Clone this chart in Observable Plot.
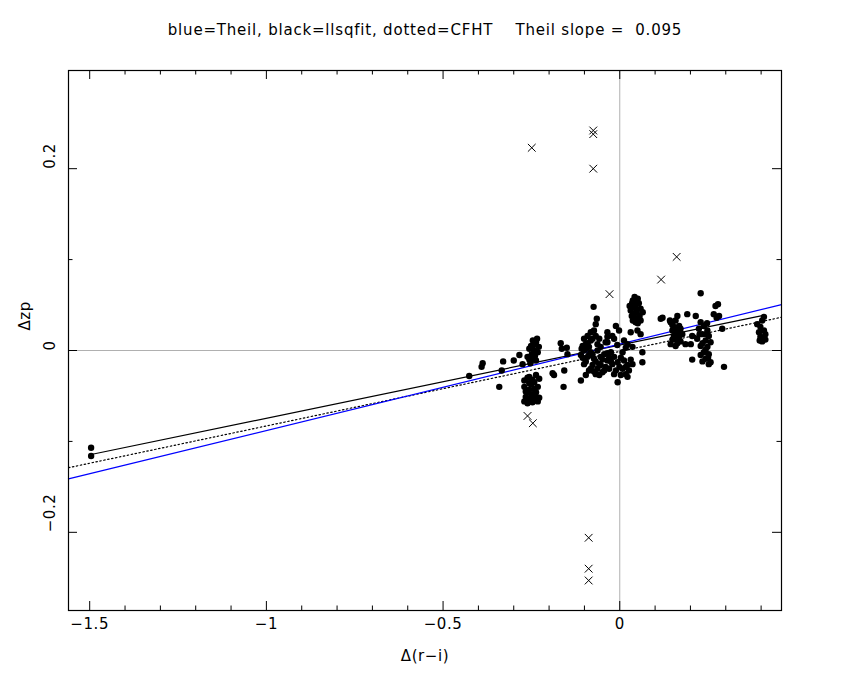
<!DOCTYPE html>
<html><head><meta charset="utf-8">
<script src="https://cdn.jsdelivr.net/npm/d3@7"></script>
<script src="https://cdn.jsdelivr.net/npm/@observablehq/plot@0.6"></script>
<style>
body{margin:0;background:#fff;}
#wrap{position:relative;width:850px;height:680px;}
#title{position:absolute;top:21px;left:0;width:850px;text-align:center;font:15px "DejaVu Sans",sans-serif;letter-spacing:0.8px;white-space:pre;color:#000;z-index:2;}
#wrap svg{position:absolute;top:0;left:0;z-index:1;}
</style></head><body><div id="wrap"><div id="title"></div></div>
<script>
// ---- data ----
const titleText = "blue=Theil, black=llsqfit, dotted=CFHT    Theil slope =  0.095";
const xLabel = "Δ(r−i)";
const yLabel = "Δzp";
const xDomain = [-1.560, 0.4577];
const yDomain = [-0.286, 0.308];
const xMajor = [-1.5, -1, -0.5, 0];
const xMinor = [-1.4,-1.3,-1.2,-1.1,-0.9,-0.8,-0.7,-0.6,-0.4,-0.3,-0.2,-0.1,0.1,0.2,0.3,0.4];
const yMajor = [-0.2, 0, 0.2];
const yMinor = [-0.1, 0.1];

const dotX = [-1.496,-1.496,-0.426,-0.388,-0.391,-0.341,-0.330,-0.334,-0.300,-0.284,-0.275,
 -0.234,-0.237,-0.251,-0.256,-0.242,-0.232,-0.249,-0.261,-0.247,-0.237,-0.253,
 -0.270,-0.256,-0.237,-0.228,-0.251,-0.270,-0.242,-0.261,-0.247,-0.266,-0.237,-0.256,-0.270,-0.228,-0.247,
 -0.167,-0.164,-0.150,-0.190,-0.186,-0.157,-0.159,-0.148,-0.074,
 0.042,0.051,0.037,0.054,0.040,0.059,0.031,0.048,0.034,0.056,0.042,0.059,0.037,0.051,0.028,0.065,
 0.116,0.142,-0.065,-0.068,-0.011,-0.002,
 -0.073,-0.082,-0.091,-0.101,-0.096,-0.082,-0.068,-0.058,-0.035,-0.021,-0.016,
 0.031,0.050,0.059,0.012,0.022,0.036,0.064,
 -0.101,-0.082,-0.063,-0.044,-0.025,-0.091,-0.073,-0.054,-0.035,-0.016,
 -0.101,-0.077,-0.058,-0.040,-0.021,-0.087,-0.068,-0.049,-0.030,-0.011,-0.110,-0.108,
 -0.006,0.012,0.022,0.036,0.008,0.026,0.003,0.017,0.064,-0.110,-0.096,-0.006,0.022,
 0.229,0.271,0.278,0.121,0.163,0.191,0.215,0.266,0.281,0.274,
 0.144,0.158,0.168,0.153,0.172,0.149,0.163,0.177,0.153,0.168,0.144,0.158,0.186,0.201,0.205,
 0.229,0.238,0.224,0.248,0.234,0.252,0.219,0.243,0.257,0.229,0.248,0.238,0.252,0.229,0.243,0.257,0.252,
 0.290,0.205,0.295,0.408,0.389,0.398,0.408,0.394,0.412,0.398,0.408,0.403,-0.035,-0.035,
 -0.261,-0.242,-0.232,-0.256,-0.237,-0.266,-0.251,-0.242,-0.261,-0.232,-0.256,-0.247,
 -0.244,-0.240,-0.256,-0.229,-0.246,
 -0.105,-0.096,-0.087,-0.077,-0.068,-0.063,-0.054,-0.049,-0.044,-0.035,-0.030,-0.025,
 -0.087,-0.091,-0.077,-0.063,-0.054,-0.040,-0.082,-0.073,-0.058,-0.096,-0.105,-0.016,
 -0.001,0.003,0.017,0.031,0.008,0.017,-0.007,
 0.045,0.046,0.039,0.053,0.045,0.035,
 0.149,0.160,0.158,0.172,0.163,0.149,0.234,0.243,0.234,0.247,0.226,0.245,0.250,
 0.403,0.396,0.412];
const dotY = [-0.107,-0.116,-0.028,-0.014,-0.018,-0.040,-0.012,-0.022,-0.011,-0.005,-0.015,
 0.013,0.009,0.005,0.002,0.000,-0.002,-0.004,-0.007,-0.009,-0.011,-0.014,
 -0.033,-0.029,-0.027,-0.031,-0.037,-0.040,-0.042,-0.046,-0.048,-0.051,-0.051,-0.055,-0.056,-0.052,-0.057,
 0.008,0.002,0.003,-0.025,-0.027,-0.022,-0.040,-0.004,0.048,
 0.059,0.057,0.055,0.052,0.049,0.046,0.044,0.042,0.038,0.038,0.035,0.033,0.033,0.030,0.049,0.042,
 0.035,0.033,0.035,0.029,0.027,0.022,
 0.022,0.020,0.016,0.013,0.007,0.011,0.016,0.013,0.020,0.016,0.013,
 0.020,0.022,0.018,0.011,0.007,0.004,-0.002,
 0.000,-0.002,0.000,-0.004,-0.002,-0.007,-0.009,-0.007,-0.011,-0.007,
 -0.015,-0.016,-0.015,-0.018,-0.015,-0.022,-0.026,-0.024,-0.020,-0.022,-0.005,0.002,
 -0.013,-0.011,-0.016,-0.015,-0.020,-0.022,-0.027,-0.026,-0.013,-0.033,-0.027,-0.035,-0.029,
 0.063,0.049,0.051,0.036,0.038,0.040,0.038,0.040,0.038,0.036,
 0.031,0.033,0.027,0.026,0.024,0.022,0.020,0.018,0.016,0.015,0.007,0.005,0.007,0.007,0.016,
 0.031,0.027,0.024,0.022,0.018,0.016,0.013,0.011,0.009,0.005,0.004,-0.002,-0.004,-0.005,-0.009,-0.013,-0.015,
 0.024,-0.010,-0.018,0.037,0.029,0.026,0.022,0.020,0.018,0.015,0.013,0.010,0.015,0.009,
 -0.030,-0.035,-0.040,-0.043,-0.046,-0.045,-0.051,-0.055,-0.058,-0.056,-0.036,-0.032,
 0.006,-0.006,-0.010,0.004,0.011,
 -0.008,-0.012,-0.005,-0.004,-0.012,-0.020,-0.016,-0.010,-0.022,-0.003,-0.008,-0.012,
 0.004,0.008,0.013,0.007,0.004,0.009,-0.020,-0.023,-0.027,0.002,0.005,-0.026,
 -0.018,-0.008,-0.018,-0.010,-0.002,0.003,0.006,
 0.054,0.046,0.040,0.036,0.031,0.052,
 0.028,0.024,0.013,0.010,0.008,0.012,0.008,0.001,-0.012,0.030,0.018,0.018,-0.008,
 0.033,0.011,0.012];

const crossX = [-0.075,-0.075,-0.249,-0.075,0.161,0.117,-0.029,-0.261,-0.246,-0.088,-0.088,-0.088];
const crossY = [0.242,0.238,0.223,0.200,0.103,0.078,0.062,-0.072,-0.080,-0.206,-0.240,-0.253];

// fits: slope, intercept, x extent
const fitNames = ["Theil", "llsqfit", "CFHT"];
const fitSlope = [0.095, 0.0805, 0.082];
const fitIntercept = [0.007, 0.006, -0.001];
const fitXFrom = [xDomain[0], -1.496, xDomain[0]];
const fitXTo = [xDomain[1], 0.403, xDomain[1]];

// ---- build tables ----
const dots = dotX.map((x, i) => ({x, y: dotY[i]}));
const crosses = crossX.map((x, i) => ({x, y: crossY[i]}));
const fitLine = k => [fitXFrom[k], fitXTo[k]].map(x => ({x, y: fitIntercept[k] + fitSlope[k] * x}));
const fmt = d => String(d).replace("-", "\u2212");

const W = 850, H = 680, mt = 70, mb = 70, ml = 68, mr = 69;
const fw = W - ml - mr, fh = H - mt - mb;
const majLen = 9, minLen = 4.5;
const font = '"DejaVu Sans", sans-serif';

document.getElementById("title").textContent = titleText;

const chart = Plot.plot({
  width: W, height: H,
  marginTop: mt, marginBottom: mb, marginLeft: ml, marginRight: mr,
  x: {domain: xDomain, axis: null},
  y: {domain: yDomain, axis: null},
  style: {fontFamily: font, fontSize: "15px", letterSpacing: "0.6px", background: "transparent", color: "black"},
  marks: [
    Plot.ruleX([0], {stroke: "#b0b0b0", strokeWidth: 1}),
    Plot.ruleY([0], {stroke: "#b0b0b0", strokeWidth: 1}),
    Plot.line(fitLine(2), {x: "x", y: "y", stroke: "black", strokeWidth: 1.2, strokeDasharray: "1.5,2.5"}),
    Plot.line(fitLine(1), {x: "x", y: "y", stroke: "black", strokeWidth: 1.2}),
    Plot.line(fitLine(0), {x: "x", y: "y", stroke: "#0000ff", strokeWidth: 1.2}),
    Plot.dot(dots, {x: "x", y: "y", r: 3.2, fill: "black", stroke: "none"}),
    Plot.dot(crosses, {x: "x", y: "y", symbol: "times", r: 3.6, stroke: "black", strokeWidth: 1}),
    Plot.frame({stroke: "black", strokeWidth: 1.2}),
    // ticks (inward, all four sides)
    Plot.ruleX(xMajor, {x: d => d, insetTop: fh - majLen, stroke: "black"}),
    Plot.ruleX(xMinor, {x: d => d, insetTop: fh - minLen, stroke: "black"}),
    Plot.ruleX(xMajor, {x: d => d, insetBottom: fh - majLen, stroke: "black"}),
    Plot.ruleX(xMinor, {x: d => d, insetBottom: fh - minLen, stroke: "black"}),
    Plot.ruleY(yMajor, {y: d => d, insetRight: fw - majLen, stroke: "black"}),
    Plot.ruleY(yMinor, {y: d => d, insetRight: fw - minLen, stroke: "black"}),
    Plot.ruleY(yMajor, {y: d => d, insetLeft: fw - majLen, stroke: "black"}),
    Plot.ruleY(yMinor, {y: d => d, insetLeft: fw - minLen, stroke: "black"}),
    // tick labels
    Plot.text(xMajor, {x: d => d, frameAnchor: "bottom", dy: 18, text: fmt, fill: "black", fontSize: 15}),
    Plot.text(yMajor, {y: d => d, frameAnchor: "left", dx: -18, rotate: -90, text: fmt, fill: "black", fontSize: 15}),
    // axis labels
    Plot.text([xLabel], {frameAnchor: "bottom", dy: 50, text: d => d, fill: "black", fontSize: 15}),
    Plot.text([yLabel], {frameAnchor: "left", dx: -43, dy: -10, rotate: -90, text: d => d, fill: "black", fontSize: 15})
  ]
});
document.getElementById("wrap").appendChild(chart);
</script>
</body></html>
